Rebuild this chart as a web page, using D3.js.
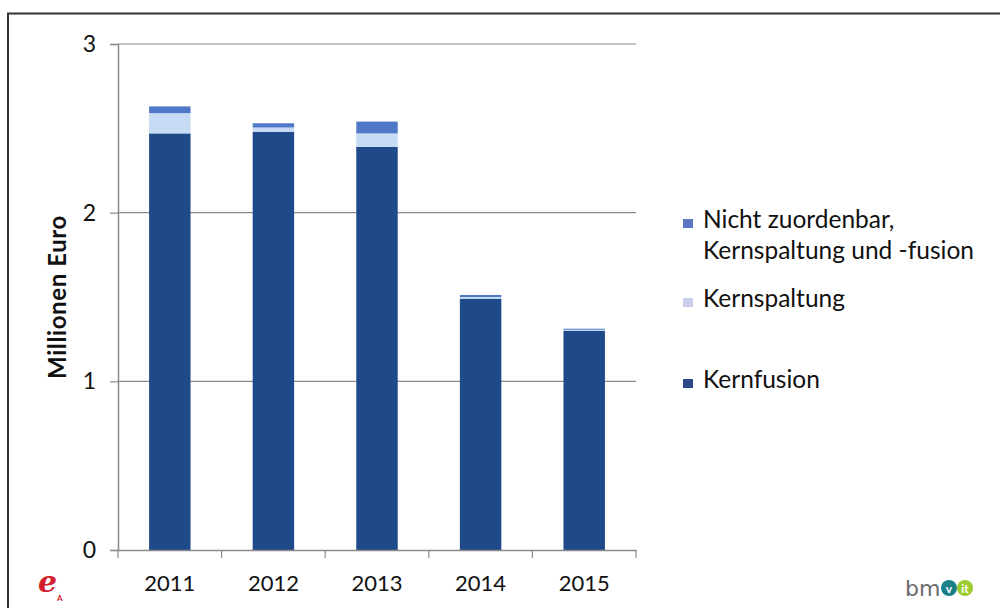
<!DOCTYPE html>
<html>
<head>
<meta charset="utf-8">
<script src="https://cdn.jsdelivr.net/npm/d3@7"></script>
<style>
  html, body { margin: 0; padding: 0; background: #fff; }
  svg { display: block; font-family: Lato, "Open Sans", sans-serif; }
</style>
</head>
<body>
<svg id="chart" width="1000" height="608"></svg>
<script>
// Research funding per year, in million euro
const years = ["2011", "2012", "2013", "2014", "2015"];
const kernfusion = [2.47, 2.48, 2.39, 1.49, 1.30];
const kernspaltung = [0.12, 0.025, 0.08, 0.01, 0.006];
const nichtZuordenbar = [0.04, 0.025, 0.07, 0.012, 0.006];
const yTicks = [0, 1, 2, 3];

const seriesKeys = ["kernfusion", "kernspaltung", "nicht"];
const seriesColors = { kernfusion: "#1f4a8a", kernspaltung: "#c6dcf4", nicht: "#4f78c8" };
const legendItems = [
  { key: "nicht", lines: ["Nicht zuordenbar,", "Kernspaltung und -fusion"], color: "#5b78c2" },
  { key: "kernspaltung", lines: ["Kernspaltung"], color: "#c9cde9" },
  { key: "kernfusion", lines: ["Kernfusion"], color: "#2b4987" }
];

const rows = years.map((y, i) => ({
  year: y,
  kernfusion: kernfusion[i],
  kernspaltung: kernspaltung[i],
  nicht: nichtZuordenbar[i]
}));

const svg = d3.select("#chart");
const plot = { left: 118, right: 636, top: 44, bottom: 550 };

// outer frame
svg.append("path")
  .attr("d", "M8,608 V13.5 H1000")
  .attr("fill", "none").attr("stroke", "#333").attr("stroke-width", 2);

const xCat = d3.scaleBand().domain(years).range([plot.left, plot.right]).padding(0);
const x = d3.scaleBand().domain(years).range([plot.left, plot.right])
  .paddingInner(0.6).paddingOuter(0.3);
const y = d3.scaleLinear().domain([0, 3]).range([plot.bottom, plot.top]);

// gridlines
svg.append("g").selectAll("line")
  .data(yTicks.filter(t => t > 0))
  .join("line")
  .attr("x1", plot.left).attr("x2", plot.right)
  .attr("y1", d => y(d)).attr("y2", d => y(d))
  .attr("stroke", "#8a8a8a").attr("stroke-width", 1.2);

// y axis
const yAxis = svg.append("g")
  .attr("transform", `translate(${plot.left},0)`)
  .call(d3.axisLeft(y).tickValues(yTicks).tickFormat(d3.format("d")).tickSize(8).tickPadding(14));
yAxis.select(".domain").attr("stroke", "#8a8a8a").attr("stroke-width", 1.5);
yAxis.selectAll(".tick line").attr("stroke", "#8a8a8a").attr("stroke-width", 1.2);
yAxis.selectAll(".tick text")
  .attr("font-size", 23).attr("fill", "#111").attr("font-family", "Lato, sans-serif");

// stacked bars
const stacked = d3.stack().keys(seriesKeys)(rows);
svg.append("g").selectAll("g")
  .data(stacked)
  .join("g")
  .attr("fill", d => seriesColors[d.key])
  .selectAll("rect")
  .data(d => d)
  .join("rect")
  .attr("x", d => x(d.data.year))
  .attr("width", x.bandwidth())
  .attr("y", d => y(d[1]))
  .attr("height", d => y(d[0]) - y(d[1]));

// x axis: baseline, boundary ticks and year labels
const xAxis = svg.append("g")
  .attr("transform", `translate(0,${plot.bottom})`)
  .call(d3.axisBottom(xCat).tickSize(0).tickPadding(25));
xAxis.select(".domain").attr("stroke", "#8a8a8a").attr("stroke-width", 1.5);
xAxis.selectAll(".tick text")
  .attr("font-size", 22).attr("fill", "#111").attr("font-family", "Lato, sans-serif");
const bounds = years.map(d => xCat(d)).concat([plot.right]);
xAxis.append("g").selectAll("line")
  .data(bounds)
  .join("line")
  .attr("x1", d => d).attr("x2", d => d)
  .attr("y1", 0).attr("y2", 8)
  .attr("stroke", "#8a8a8a").attr("stroke-width", 1.2);

// y axis title
svg.append("text")
  .attr("transform", `translate(66,297) rotate(-90)`)
  .attr("text-anchor", "middle")
  .attr("font-size", 24).attr("font-weight", "bold").attr("fill", "#111")
  .attr("letter-spacing", 0.6)
  .text("Millionen Euro");

// legend
const legendPos = [228, 307, 388];
const legend = svg.append("g");
legendItems.forEach((item, i) => {
  const g = legend.append("g").attr("transform", `translate(683,${legendPos[i]})`);
  g.append("rect").attr("x", 0).attr("y", -9).attr("width", 10).attr("height", 9).attr("fill", item.color);
  item.lines.forEach((ln, j) => {
    g.append("text").attr("x", 20).attr("y", j * 31)
      .attr("font-size", 24.5).attr("fill", "#111").text(ln);
  });
});

// logos
svg.append("text").attr("x", 38).attr("y", 592)
  .attr("font-size", 30).attr("font-style", "italic").attr("font-weight", "bold")
  .attr("font-family", "DejaVu Serif, serif").attr("fill", "#d4202e").text("e");
svg.append("text").attr("x", 57).attr("y", 601)
  .attr("font-size", 8).attr("font-weight", "bold").attr("fill", "#d4202e").text("A");

const bm = svg.append("g").attr("transform", "translate(905,596)");
bm.append("text").attr("x", 0).attr("y", 0).attr("font-size", 22)
  .attr("font-family", "DejaVu Sans, sans-serif").attr("fill", "#6b6b6b").text("bm");
bm.append("circle").attr("cx", 44).attr("cy", -8).attr("r", 8).attr("fill", "#1a7f86");
bm.append("text").attr("x", 44).attr("y", -3).attr("text-anchor", "middle").attr("font-size", 12)
  .attr("font-weight", "bold").attr("fill", "#fff").text("v");
bm.append("circle").attr("cx", 60).attr("cy", -8).attr("r", 8).attr("fill", "#9ccb2e");
bm.append("text").attr("x", 60).attr("y", -3).attr("text-anchor", "middle").attr("font-size", 12)
  .attr("font-weight", "bold").attr("fill", "#fff").text("it");
</script>
</body>
</html>
